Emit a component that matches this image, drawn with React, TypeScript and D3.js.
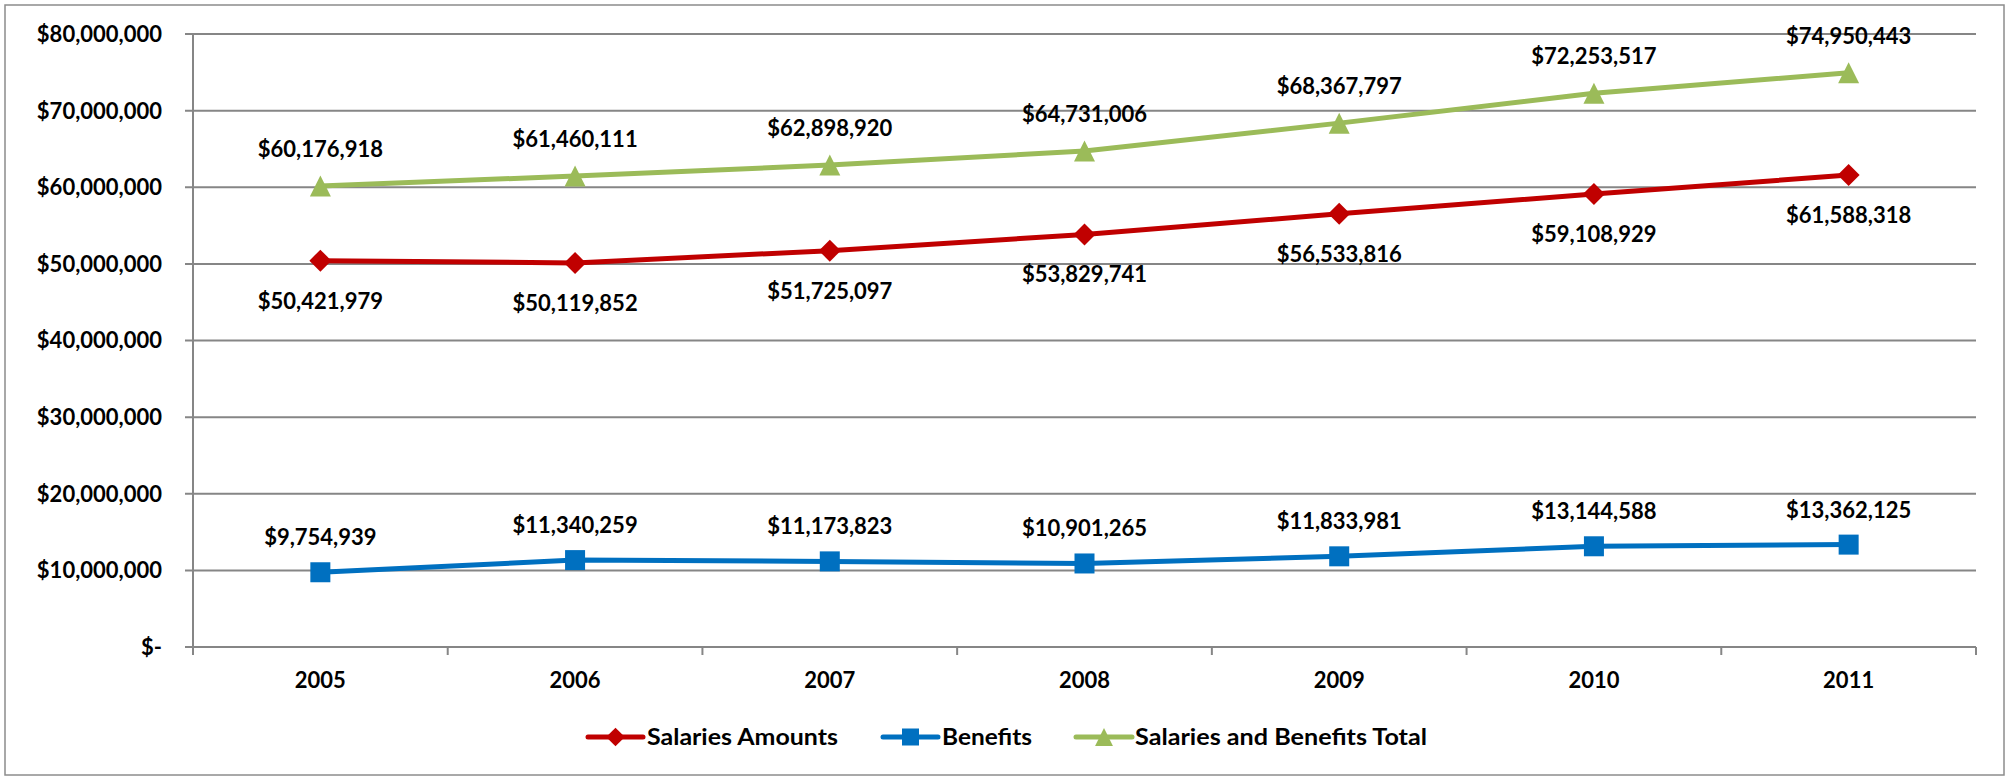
import React from "react";
import * as d3 from "d3";

const years = ["2005", "2006", "2007", "2008", "2009", "2010", "2011"];
const salaries = [50421979, 50119852, 51725097, 53829741, 56533816, 59108929, 61588318];
const benefits = [9754939, 11340259, 11173823, 10901265, 11833981, 13144588, 13362125];
const totals = [60176918, 61460111, 62898920, 64731006, 68367797, 72253517, 74950443];
const yTicks = [0, 10000000, 20000000, 30000000, 40000000, 50000000, 60000000, 70000000, 80000000];

const W = 2009;
const H = 777;
const FONT = "Lato, 'Open Sans', sans-serif";
const RED = "#C00000";
const BLUE = "#0070C0";
const GREEN = "#9BBB59";
const GRID = "#868686";

const fmt = (v: number) => (v === 0 ? "$-" : "$" + d3.format(",")(v));

export default function App() {
  const x = d3.scaleBand().domain(years).range([193, 1976]);
  const y = d3.scaleLinear().domain([0, 80000000]).range([647, 34]);
  const cx = (yr: string) => (x(yr) as number) + x.bandwidth() / 2;
  const line = d3
    .line<number>()
    .x((_, i) => cx(years[i]))
    .y((d) => y(d));

  const diamond = (px: number, py: number, r = 11) =>
    `M${px},${py - r}L${px + r},${py}L${px},${py + r}L${px - r},${py}Z`;
  const tri = (px: number, py: number, s = 21) =>
    `M${px},${py - s * 0.5}L${px + s / 2},${py + s * 0.5}L${px - s / 2},${py + s * 0.5}Z`;

  const series = [
    { name: "Salaries Amounts", data: salaries, color: RED, marker: "diamond", labelDy: 40 },
    { name: "Benefits", data: benefits, color: BLUE, marker: "square", labelDy: -35 },
    { name: "Salaries and Benefits Total", data: totals, color: GREEN, marker: "triangle", labelDy: -37 },
  ];

  const marker = (m: string, px: number, py: number, color: string, size = 1) => {
    if (m === "diamond") return <path d={diamond(px, py, 11 * size)} fill={color} />;
    if (m === "square")
      return <rect x={px - 10 * size} y={py - 10 * size} width={20 * size} height={20 * size} fill={color} />;
    return <path d={tri(px, py, 21 * size)} fill={color} />;
  };

  const legend = [
    { name: "Salaries Amounts", color: RED, marker: "diamond", x1: 588, x2: 643, tx: 647, tl: 191 },
    { name: "Benefits", color: BLUE, marker: "square", x1: 883, x2: 938, tx: 942, tl: 90 },
    { name: "Salaries and Benefits Total", color: GREEN, marker: "triangle", x1: 1076, x2: 1132, tx: 1135, tl: 292 },
  ];

  return (
    <svg width={W} height={H} style={{ position: "absolute", left: 0, top: 0 }} fontFamily={FONT}>
      <rect x={0} y={0} width={W} height={H} fill="#fff" />
      <rect x={5} y={5} width={1999} height={770} fill="none" stroke="#8c8c8c" strokeWidth={1.5} />
      {yTicks.map((t) => (
        <g key={t}>
          <line x1={185} x2={1976} y1={y(t)} y2={y(t)} stroke={GRID} strokeWidth={2} />
          <text x={162} y={y(t)} dy="0.36em" textAnchor="end" fontSize={22} fontWeight="bold" fill="#000">
            {fmt(t)}
          </text>
        </g>
      ))}
      <line x1={193} x2={193} y1={34} y2={655} stroke={GRID} strokeWidth={2} />
      {[...years.map((yr) => x(yr) as number), 1976].map((p, i) => (
        <line key={i} x1={p} x2={p} y1={647} y2={655} stroke={GRID} strokeWidth={2} />
      ))}
      {years.map((yr) => (
        <text key={yr} x={cx(yr)} y={680} dy="0.36em" textAnchor="middle" fontSize={22} fontWeight="bold">
          {yr}
        </text>
      ))}
      {series.map((s) => (
        <g key={s.name}>
          <path d={line(s.data) as string} fill="none" stroke={s.color} strokeWidth={5} strokeLinejoin="round" />
          {s.data.map((v, i) => (
            <g key={i}>{marker(s.marker, cx(years[i]), y(v), s.color)}</g>
          ))}
          {s.data.map((v, i) => (
            <text
              key={"l" + i}
              x={cx(years[i])}
              y={y(v) + s.labelDy}
              dy="0.36em"
              textAnchor="middle"
              fontSize={22}
              fontWeight="bold"
              fill="#000"
            >
              {fmt(v)}
            </text>
          ))}
        </g>
      ))}
      {legend.map((l) => (
        <g key={l.name}>
          <line x1={l.x1} x2={l.x2} y1={737} y2={737} stroke={l.color} strokeWidth={5} strokeLinecap="round" />
          {marker(l.marker, (l.x1 + l.x2) / 2, 737, l.color, 0.85)}
          <text
            x={l.tx}
            y={737}
            dy="0.36em"
            fontSize={22}
            fontWeight="bold"
            textLength={l.tl}
            lengthAdjust="spacingAndGlyphs"
          >
            {l.name}
          </text>
        </g>
      ))}
    </svg>
  );
}
